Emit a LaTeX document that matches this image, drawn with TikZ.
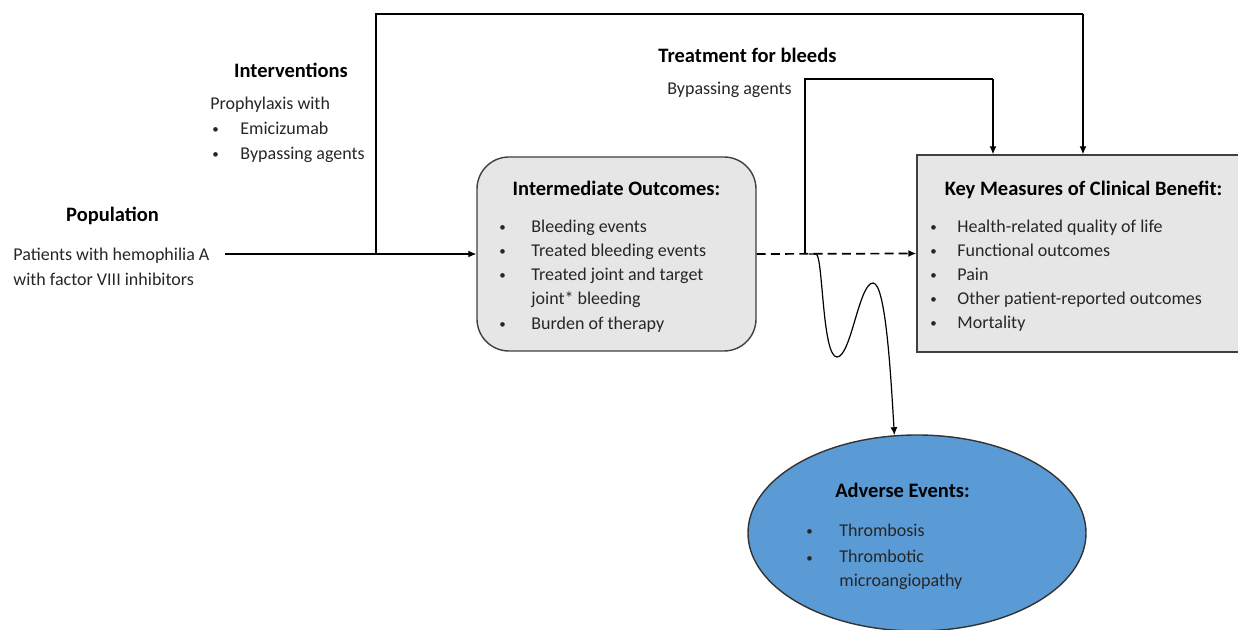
\documentclass[tikz,border=0pt]{standalone}
\usepackage{fontspec}
\setmainfont{Carlito}
\usetikzlibrary{arrows.meta,shapes.geometric}
\definecolor{boxgray}{HTML}{E6E6E6}
\definecolor{aeblue}{HTML}{5B9BD5}
\definecolor{txt}{HTML}{262626}
\newcommand{\smbul}{\raisebox{0.5pt}{\scalebox{0.72}{\textbullet}}}
\begin{document}
\begin{tikzpicture}[x=0.5pt,y=-0.5pt,
  body/.style={font=\fontsize{9}{11}\selectfont, inner sep=0pt, anchor=base west, text=txt},
  bodyE/.style={body, anchor=base east},
  head/.style={font=\fontsize{10.25}{12}\selectfont\bfseries, inner sep=0pt, anchor=base, text=black},
  conn/.style={line width=0.6pt, draw=black},
  arr/.style={conn, -{Latex[length=4pt,width=3.5pt]}},
  graybox/.style={draw=black!75, line width=0.7pt, fill=boxgray, inner sep=0pt}]
\useasboundingbox (0,0) rectangle (1238,630);
\clip (0,0) rectangle (1238,630);

% boxes
\node[graybox, rounded corners=16pt, minimum width=139.5pt, minimum height=97pt] (ib) at (616.5,254) {};
\node[graybox, minimum width=164pt, minimum height=98.5pt] (kb) at (1081,253.5) {};
\node[ellipse, draw=black!80, line width=0.7pt, fill=aeblue, inner sep=0pt, minimum width=169pt, minimum height=98pt] (ae) at (917,533) {};

% population
\node[head] (poph) at (112.5,222) {Population};
\node[body] (pat1) at (13,261) {Patients with hemophilia A};
\node[body] (pat2) at (13,286) {with factor VIII inhibitors};

% interventions
\node[head] (inth) at (291,78) {Interventions};
\node[body] (proph) at (210,110) {Prophylaxis with};
\node[body] (ib1) at (212,135) {\smbul};
\node[body] (it1) at (240,135) {Emicizumab};
\node[body] (ib2) at (212,160) {\smbul};
\node[body] (it2) at (240,160) {Bypassing agents};

% treatment for bleeds
\node[head] (tfb) at (747.5,63) {Treatment for bleeds};
\node[bodyE] (bypa) at (792,95) {Bypassing agents};

% intermediate outcomes
\node[head] (ibt) at (616.5,196) {Intermediate Outcomes:};
\foreach \y/\t [count=\i] in {233/Bleeding events,257/Treated bleeding events,281/Treated joint and target,330/Burden of therapy}{
  \node[body] (iob\i) at (499,\y) {\smbul};
  \node[body] (iot\i) at (531,\y) {\t};
}
\node[body] (iot5) at (531,305) {joint* bleeding};

% key measures
\node[head] (kbt) at (1083.5,196) {Key Measures of Clinical Benefit:};
\foreach \y/\t [count=\i] in {233/Health-related quality of life,257/Functional outcomes,281/Pain,305/Other patient-reported outcomes,329/Mortality}{
  \node[body] (kmb\i) at (930,\y) {\smbul};
  \node[body] (kmt\i) at (957,\y) {\t};
}

% adverse events
\node[head] (aet) at (902.5,498) {Adverse Events:};
\node[body] (aeb1) at (806,537) {\smbul};
\node[body] (aet1) at (839,537) {Thrombosis};
\node[body] (aeb2) at (806,563) {\smbul};
\node[body] (aet2) at (839,563) {Thrombotic};
\node[body] (aet3) at (839,587) {microangiopathy};

% connectors
\coordinate (popout) at (225,254);
\coordinate (j1) at (376,254);
\coordinate (t1) at (376,14);
\coordinate (t2) at (1083,14);
\coordinate (j2) at (805,254);
\coordinate (b1) at (805,79);
\coordinate (b2) at (993,79);
\coordinate (w0) at (809,254);
\coordinate (w1) at (816,254);
\coordinate (wmin) at (837,357);
\coordinate (wmax) at (873,283);

\draw[arr] (popout) -- (ib.west);
\draw[conn] (j1) -- (t1) -- (t2);
\draw[arr] (t2) -- (t2 |- kb.north);
\draw[arr, line width=0.85pt, dash pattern=on 4.5pt off 2.6pt] (ib.east) -- (kb.west);
\draw[conn] (j2) -- (b1) -- (b2);
\draw[arr] (b2) -- (b2 |- kb.north);
\draw[arr] (w0) -- (w1) .. controls (823,254) and (822,357) .. (wmin)
  .. controls (851,357) and (859,283) .. (wmax)
  .. controls (886,283) and (891,380) .. (ae.103);
\end{tikzpicture}
\end{document}
